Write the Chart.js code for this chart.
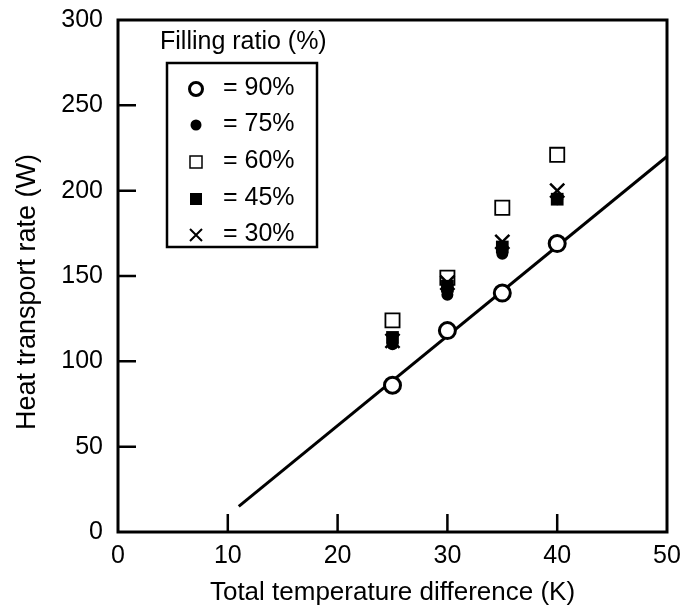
<!DOCTYPE html>
<html>
<head>
<meta charset="utf-8">
<title>Heat transport rate</title>
<script src="https://cdn.jsdelivr.net/npm/chart.js@4/dist/chart.umd.min.js"></script>
<style>
  html, body { margin: 0; padding: 0; background: #fff; }
  #wrap { width: 687px; height: 612px; position: relative; }
</style>
</head>
<body>
<div id="wrap"><canvas id="heatChart"></canvas></div>
<script>
// Temperature differences (K) where measurements were taken
var tempDiff = [25, 30, 35, 40];

// Heat transport rate (W) for each filling ratio
var ratio90 = [86, 118, 140, 169];
var ratio75 = [110, 139, 163, 195];
var ratio60 = [124, 149, 190, 221];
var ratio45 = [114, 144, 167, 195];
var ratio30 = [112, 146, 170, 200];

// Fitted line through the 90% data
var fitX = [11, 50];
var fitY = [15, 220];

var xTicks = [0, 10, 20, 30, 40, 50];
var yTicks = [0, 50, 100, 150, 200, 250, 300];

var xTitle = 'Total temperature difference (K)';
var yTitle = 'Heat transport rate (W)';
var legendTitle = 'Filling ratio (%)';
var legendLabels = ['= 90%', '= 75%', '= 60%', '= 45%', '= 30%'];

var FONT = '"Liberation Sans", Arial, sans-serif';
var FONT_SIZE = 25;

function toPoints(xs, ys) {
    return xs.map(function(x, i) { return { x: x, y: ys[i] }; });
}

// Marker shapes for the legend box
function drawMarker(ctx, kind, x, y) {
    ctx.save();
    ctx.strokeStyle = '#000';
    ctx.fillStyle = '#000';
    if (kind === 'openCircle') {
        ctx.lineWidth = 3;
        ctx.fillStyle = '#fff';
        ctx.beginPath();
        ctx.arc(x, y, 6.5, 0, Math.PI * 2);
        ctx.fill();
        ctx.stroke();
    } else if (kind === 'dot') {
        ctx.beginPath();
        ctx.arc(x, y, 5.5, 0, Math.PI * 2);
        ctx.fill();
    } else if (kind === 'openSquare') {
        ctx.lineWidth = 1.5;
        ctx.fillStyle = '#fff';
        ctx.fillRect(x - 6, y - 6, 12, 12);
        ctx.strokeRect(x - 6, y - 6, 12, 12);
    } else if (kind === 'square') {
        ctx.fillRect(x - 6, y - 6, 12, 12);
    } else if (kind === 'cross') {
        ctx.lineWidth = 2;
        ctx.beginPath();
        ctx.moveTo(x - 6, y - 6); ctx.lineTo(x + 6, y + 6);
        ctx.moveTo(x + 6, y - 6); ctx.lineTo(x - 6, y + 6);
        ctx.stroke();
    }
    ctx.restore();
}

// Box frame, inward ticks, y title and the filling-ratio legend
var framePlugin = {
    id: 'framePlugin',
    afterDraw: function(chart) {
        var ctx = chart.ctx;
        var a = chart.chartArea;
        var xs = chart.scales.x, ys = chart.scales.y;
        ctx.save();
        ctx.strokeStyle = '#000';
        ctx.lineWidth = 3;
        ctx.strokeRect(a.left, a.top, a.right - a.left, a.bottom - a.top);

        ctx.lineWidth = 2.5;
        ctx.beginPath();
        xTicks.forEach(function(v) {
            if (v === xs.min || v === xs.max) return;
            var px = xs.getPixelForValue(v);
            ctx.moveTo(px, a.bottom);
            ctx.lineTo(px, a.bottom - 18);
        });
        yTicks.forEach(function(v) {
            if (v === ys.min || v === ys.max) return;
            var py = ys.getPixelForValue(v);
            ctx.moveTo(a.left, py);
            ctx.lineTo(a.left + 18, py);
        });
        ctx.stroke();

        // y axis title, sits a little below the middle of the axis
        ctx.fillStyle = '#000';
        ctx.save();
        ctx.translate(35, 292);
        ctx.rotate(-Math.PI / 2);
        ctx.font = '27px ' + FONT;
        ctx.textAlign = 'center';
        ctx.textBaseline = 'alphabetic';
        ctx.fillText(yTitle, 0, 0);
        ctx.restore();

        // legend
        ctx.font = FONT_SIZE + 'px ' + FONT;
        ctx.textBaseline = 'middle';
        ctx.textAlign = 'left';
        ctx.fillText(legendTitle, 160, 42);

        ctx.lineWidth = 2.5;
        ctx.strokeRect(167, 63, 150, 184);

        var kinds = ['openCircle', 'dot', 'openSquare', 'square', 'cross'];
        var rowY = [88, 124, 161, 198, 234];
        legendLabels.forEach(function(label, i) {
            drawMarker(ctx, kinds[i], 196, rowY[i] + 1);
            ctx.fillStyle = '#000';
            ctx.fillText(label, 223, rowY[i]);
        });
        ctx.restore();
    }
};

var ctx = document.getElementById('heatChart').getContext('2d');

var heatChart = new Chart(ctx, {
    type: 'scatter',
    data: {
        datasets: [
            {
                type: 'line',
                label: 'fit',
                data: toPoints(fitX, fitY),
                borderColor: '#000',
                borderWidth: 3,
                pointRadius: 0,
                fill: false,
                order: 6
            },
            {
                label: legendLabels[2],
                data: toPoints(tempDiff, ratio60),
                pointStyle: 'rect',
                pointRadius: 10,
                backgroundColor: '#fff',
                borderColor: '#000',
                borderWidth: 1.8,
                order: 5
            },
            {
                label: legendLabels[1],
                data: toPoints(tempDiff, ratio75),
                pointStyle: 'circle',
                pointRadius: 6,
                backgroundColor: '#000',
                borderColor: '#000',
                borderWidth: 0,
                order: 4
            },
            {
                label: legendLabels[3],
                data: toPoints(tempDiff, ratio45),
                pointStyle: 'rect',
                pointRadius: 9,
                backgroundColor: '#000',
                borderColor: '#000',
                borderWidth: 0,
                order: 3
            },
            {
                label: legendLabels[4],
                data: toPoints(tempDiff, ratio30),
                pointStyle: 'crossRot',
                pointRadius: 10,
                borderColor: '#000',
                borderWidth: 2.5,
                order: 2
            },
            {
                label: legendLabels[0],
                data: toPoints(tempDiff, ratio90),
                pointStyle: 'circle',
                pointRadius: 8,
                backgroundColor: '#fff',
                borderColor: '#000',
                borderWidth: 3,
                order: 1
            }
        ]
    },
    options: {
        responsive: true,
        maintainAspectRatio: false,
        animation: false,
        layout: { padding: { top: 20, right: 20, left: 0, bottom: 0 } },
        plugins: {
            legend: { display: false },
            tooltip: { enabled: false }
        },
        scales: {
            x: {
                type: 'linear',
                min: 0,
                max: 50,
                afterBuildTicks: function(scale) {
                    scale.ticks = xTicks.map(function(v) { return { value: v }; });
                },
                afterFit: function(scale) {
                    scale.height = 80;
                    scale.paddingLeft = 0;
                    scale.paddingRight = 0;
                },
                grid: { display: false, drawTicks: false },
                border: { display: false },
                ticks: {
                    color: '#000',
                    padding: 9,
                    maxRotation: 0,
                    font: { family: FONT, size: FONT_SIZE }
                },
                title: {
                    display: true,
                    text: xTitle,
                    color: '#000',
                    padding: { top: 5 },
                    font: { family: FONT, size: 26 }
                }
            },
            y: {
                type: 'linear',
                min: 0,
                max: 300,
                afterBuildTicks: function(scale) {
                    scale.ticks = yTicks.map(function(v) { return { value: v }; });
                },
                afterFit: function(scale) {
                    scale.width = 118;
                    scale.paddingTop = 0;
                    scale.paddingBottom = 0;
                },
                grid: { display: false, drawTicks: false },
                border: { display: false },
                ticks: {
                    color: '#000',
                    padding: 15,
                    font: { family: FONT, size: FONT_SIZE }
                },
                title: { display: false }
            }
        }
    },
    plugins: [framePlugin]
});
</script>
</body>
</html>
